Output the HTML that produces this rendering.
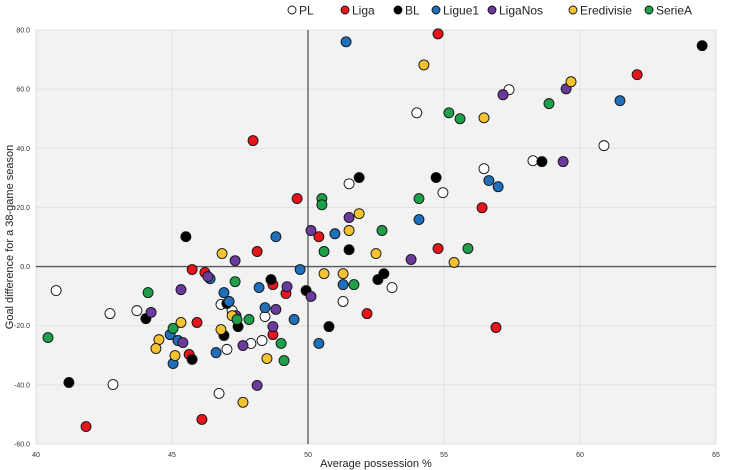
<!DOCTYPE html>
<html><head><meta charset="utf-8"><style>
html,body{margin:0;padding:0;background:#fff;}
svg{display:block;font-family:"Liberation Sans",sans-serif;}
</style></head><body>
<svg id="chart" width="730" height="470" viewBox="0 0 730 470"></svg>
<script>
const xTicks=[40,45,50,55,60,65];
const yTicks=[80,60,40,20,0,-20,-40,-60];
const seriesNames=["PL","Liga","BL","Ligue1","LigaNos","Eredivisie","SerieA"];
const seriesColors=["#ffffff","#e8141c","#000000","#1f6fba","#6a3a9c","#f5c232","#1ea04b"];
const plX=[54.0,57.39,60.88,58.27,56.47,51.51,54.96,53.09,51.29,40.74,42.72,43.71,42.83,46.73,46.8,47.21,47.02,47.9,48.31,48.42];
const plY=[52.0,59.8,40.9,35.8,33.1,28.0,25.0,-7.1,-11.8,-8.1,-15.9,-14.9,-39.9,-42.9,-12.8,-14.9,-28.0,-26.0,-25.0,-16.9];
const ligaX=[54.78,62.1,49.6,50.4,56.4,54.78,56.91,47.98,45.74,46.21,48.13,45.92,45.63,46.1,41.84,48.71,49.19,48.71,52.17];
const ligaY=[78.7,64.9,23.0,10.1,19.9,6.1,-20.6,42.6,-1.0,-2.0,5.1,-18.9,-29.7,-51.7,-54.1,-6.1,-9.1,-23.0,-15.9];
const blX=[64.49,51.88,54.71,58.6,51.51,52.79,52.57,49.93,45.51,44.04,41.21,45.74,46.91,47.43,48.64,47.02,50.77];
const blY=[74.7,30.1,30.1,35.5,5.7,-2.4,-4.4,-8.1,10.1,-17.6,-39.2,-31.4,-23.3,-20.3,-4.4,-12.5,-20.3];
const ligue1X=[51.4,61.47,56.65,56.99,54.08,50.99,49.71,51.29,48.82,46.91,46.4,48.2,47.1,48.42,49.49,44.93,45.22,46.62,45.04,50.4];
const ligue1Y=[76.0,56.1,29.1,27.0,15.9,11.1,-1.0,-6.1,10.1,-8.8,-4.1,-7.1,-11.8,-13.9,-17.9,-23.0,-25.0,-29.1,-32.8,-26.0];
const ligaNosX=[57.17,59.49,59.38,51.51,50.11,53.79,50.11,47.32,46.32,45.33,44.23,45.4,47.35,48.82,49.23,48.71,47.61,48.13];
const ligaNosY=[58.1,60.1,35.5,16.6,12.2,2.4,-10.1,2.0,-3.4,-7.8,-15.5,-25.7,-16.6,-14.5,-6.8,-20.3,-26.7,-40.2];
const erediX=[54.26,59.67,56.47,51.88,51.51,52.5,55.37,50.59,51.29,46.84,45.33,44.52,44.41,45.11,46.8,47.21,48.49,47.61];
const erediY=[68.2,62.5,50.3,17.9,12.2,4.4,1.4,-2.4,-2.4,4.4,-18.9,-24.7,-27.7,-30.1,-21.3,-16.6,-31.1,-45.9];
const serieAX=[55.18,55.59,58.86,50.51,50.51,54.08,52.72,50.59,55.88,51.69,44.12,45.04,40.44,47.32,47.39,47.83,49.01,49.12];
const serieAY=[52.0,50.0,55.1,23.0,20.9,23.0,12.2,5.1,6.1,-6.1,-8.8,-20.9,-24.0,-5.1,-17.9,-17.9,-26.0,-31.8];

const allX=[plX,ligaX,blX,ligue1X,ligaNosX,erediX,serieAX];
const allY=[plY,ligaY,blY,ligue1Y,ligaNosY,erediY,serieAY];
const L=36,R=716,T=30,B=444;
const sx=v=>L+(v-40)/(65-40)*(R-L);
const sy=v=>T+(80-v)/(80-(-60))*(B-T);
const NS="http://www.w3.org/2000/svg";
const svg=document.getElementById('chart');
function mk(tag,attrs,parent){const e=document.createElementNS(NS,tag);for(const k in attrs)e.setAttribute(k,attrs[k]);(parent||svg).appendChild(e);return e;}

const bg=mk('rect',{x:L,y:T,width:R-L,height:B-T,fill:'#f2f2f2'});


xTicks.forEach(v=>{
  const g=mk('line',{x1:sx(v),x2:sx(v),y1:T,y2:B,stroke:'#e2e2e2','stroke-width':1});
  
  
  const t=mk('text',{x:sx(v),y:457,'font-size':7,'text-anchor':'middle',fill:'#333'});
  t.textContent=v;
  
  
});
yTicks.forEach(v=>{
  const g=mk('line',{x1:L,x2:R,y1:sy(v),y2:sy(v),stroke:'#e2e2e2','stroke-width':1});
  
  
  const t=mk('text',{x:30,y:sy(v)+2.5,'font-size':7,'text-anchor':'end',fill:'#333'});
  t.textContent=v.toFixed(1);
  
  
});
const vx=mk('line',{x1:sx(50),x2:sx(50),y1:T,y2:B,stroke:'#555','stroke-width':1.3});


const hz=mk('line',{x1:L,x2:R,y1:sy(0),y2:sy(0),stroke:'#555','stroke-width':1.3});



allX.forEach((xs,si)=>{
  xs.forEach((xv,i)=>{
    const c=mk('circle',{cx:sx(xv),cy:sy(allY[si][i]),r:5,fill:seriesColors[si],stroke:'#111','stroke-width':0.9});
    
    
  });
});

const legX=[292,345,398,436,492,573,649];
seriesNames.forEach((n,i)=>{
  const c=mk('circle',{cx:legX[i],cy:10,r:4,fill:seriesColors[i],stroke:'#111','stroke-width':0.9});
  
  
  const t=mk('text',{x:legX[i]+7,y:14.5,'font-size':12,fill:'#222'});
  t.textContent=n;
  
  
});
const xt=mk('text',{x:376,y:467,'font-size':11,'text-anchor':'middle',fill:'#222'});
xt.textContent='Average possession %';


const yt=mk('text',{x:0,y:0,'font-size':11,'text-anchor':'middle',fill:'#222',transform:'translate(13,237) rotate(-90)'});
yt.textContent='Goal difference for a 38-game season';


</script>
</body></html>
